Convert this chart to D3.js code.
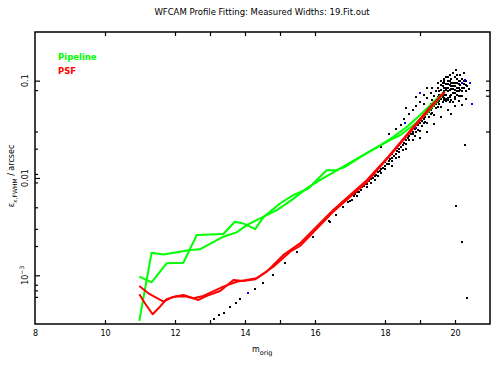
<!DOCTYPE html>
<html><head><meta charset="utf-8">
<script src="https://cdn.jsdelivr.net/npm/d3@7"></script>
<style>
body{margin:0;background:#fff;}
svg{display:block;font-family:"DejaVu Sans",sans-serif;}
</style></head><body>
<svg id="c" width="497" height="365"></svg>
<script>
// ---- data ----
const titleText = "WFCAM Profile Fitting: Measured Widths: 19.Fit.out";
const xMajorTicks = [8, 10, 12, 14, 16, 18, 20];
const xMinorBottom = [10, 12, 13, 14, 15, 16, 18, 19, 20];
const xMinorTop = [10, 12, 13, 14, 15, 16, 19];
const yMajorTicks = [0.1, 0.01, 0.001];
const yMinorTicks = [0.08, 0.03, 0.02, 0.011, 0.009, 0.005, 0.003, 0.002, 0.0008, 0.0007, 0.0006];
const yRightTicks = [0.1, 0.08, 0.07, 0.03];

const pipeA_m = [10.98, 11.33, 11.76, 12.24, 12.62, 13.38, 13.71, 13.95, 14.29, 14.52, 15.0, 15.38, 15.81, 16.33, 16.62, 16.86, 17.38, 18.14, 18.43, 18.81, 19.19, 19.67];
const pipeA_s = [0.000968, 0.000847, 0.001327, 0.001346, 0.002588, 0.002655, 0.003548, 0.003412, 0.002985, 0.003936, 0.00547, 0.00667, 0.0078, 0.01202, 0.01202, 0.0130, 0.01714, 0.02443, 0.02748, 0.03483, 0.0459, 0.0736];
const pipeB_m = [10.98, 11.33, 11.67, 12.43, 12.71, 13.38, 13.76, 14.05, 14.52, 14.91, 15.33, 15.76, 16.14, 16.71, 17.86, 18.24, 18.62, 19.0, 19.48, 19.71];
const pipeB_s = [0.00034, 0.001706, 0.00164, 0.001816, 0.00185, 0.00249, 0.00276, 0.00328, 0.00399, 0.00468, 0.00592, 0.0078, 0.00949, 0.0125, 0.02168, 0.02642, 0.03342, 0.04406, 0.0653, 0.0764];

const psfA_m = [10.98, 11.24, 11.67, 11.91, 12.24, 12.67, 12.91, 13.29, 13.67, 13.95, 14.29, 14.62, 15.09, 15.57, 16.52, 17.48, 18.09, 18.81, 19.29, 19.71];
const psfA_s = [0.000776, 0.000653, 0.000536, 0.000594, 0.000628, 0.000558, 0.000614, 0.00069, 0.000895, 0.000875, 0.00091, 0.00109, 0.00161, 0.00213, 0.00468, 0.00949, 0.01644, 0.0334, 0.0536, 0.0764];
const psfB_m = [10.98, 11.14, 11.36, 11.57, 11.76, 12.0, 12.33, 12.52, 12.81, 13.38, 13.76, 14.33, 14.81, 15.29, 15.57, 16.51, 17.48, 18.29, 18.81, 19.29, 19.66];
const psfB_s = [0.000638, 0.000516, 0.000398, 0.000476, 0.000568, 0.000604, 0.000604, 0.000581, 0.000614, 0.000764, 0.000859, 0.000931, 0.001225, 0.001746, 0.0020, 0.00446, 0.00906, 0.0196, 0.0324, 0.052, 0.0741];

const starM = [13.11, 13.27, 13.40, 13.57, 13.74, 13.86, 14.29, 14.52, 14.81, 15.14, 15.48, 15.95, 16.43, 16.95,
 17.05, 17.1, 17.15, 17.2, 17.25, 17.3, 17.35, 17.4, 17.45, 17.5, 17.55, 17.6, 17.65, 17.7, 17.75, 17.8, 17.85, 17.9, 17.95, 18.0,
 18.05, 18.1, 18.15, 18.2, 18.25, 18.3, 18.35, 18.4, 18.45, 18.5, 18.55, 18.6, 18.65, 18.7, 18.75, 18.8, 18.85, 18.9, 18.95, 19.0,
 19.05, 19.1, 19.15, 19.2, 19.25, 19.3, 19.35, 19.4, 19.45, 19.5, 19.55, 19.6, 19.65, 19.7,
 17.5, 17.7, 17.9, 18.1, 18.3, 18.5, 18.7, 18.9, 19.1, 19.3, 19.5, 19.7,
 18.2, 18.4, 18.6, 18.8, 19.0, 19.2, 19.4, 19.6, 19.8,
 18.0, 18.2, 18.4, 18.6, 18.8, 19.0, 19.2, 19.4, 19.6,
 19.75, 19.8, 19.8, 19.85, 19.85, 19.9, 19.9, 19.95, 19.95, 20.0, 20.0, 20.0, 20.05, 20.05, 20.1, 20.1, 20.15, 20.15, 20.2, 20.25, 20.3,
 19.7, 19.65, 19.6, 19.55, 19.75, 19.8, 19.9, 19.95, 20.05, 20.1, 20.2, 19.7, 19.75, 19.6, 19.5, 19.45, 19.4, 19.35, 19.3, 19.5,
 19.85, 20.0, 20.15, 20.3, 20.35, 20.4, 19.95, 20.25,
 18.3, 18.45, 18.55, 18.7, 18.8, 18.9, 19.0, 19.1, 19.2, 19.3, 19.35, 18.6, 18.9, 19.1, 18.1, 17.9, 19.2,
 19.0, 19.2, 19.4, 19.6, 19.8, 20.0, 20.2, 19.9, 20.3,
 20.03, 20.29, 20.2, 20.34, 20.03,
 19.6, 19.65, 19.7, 19.75, 19.8, 19.85, 19.85, 19.9, 19.9, 19.95, 19.95, 20.0, 20.0, 20.05, 20.05, 20.1, 20.1, 20.15, 20.15, 20.2, 20.2, 20.25, 20.25, 20.3,
 19.7, 19.75, 19.75, 19.8, 19.65, 19.55, 19.6, 19.5, 19.55, 19.45, 19.4, 19.35, 19.65, 19.7, 19.85, 20.0, 20.1, 19.9, 20.05, 20.2, 19.8, 19.7,
 18.85, 18.95, 19.05, 19.15, 19.25, 19.35, 19.45, 19.55, 19.65, 19.75, 19.85,
 17.6, 17.8, 18.0, 18.2, 18.4, 18.6, 18.8, 17.2, 17.0, 16.8, 16.6, 16.4];
const starS = [0.000356, 0.000392, 0.000413, 0.00047, 0.000524, 0.000571, 0.000718, 0.000828, 0.001007, 0.001327, 0.001746, 0.00249, 0.00355, 0.00569,
 0.0060, 0.0066, 0.0068, 0.0071, 0.0072, 0.0076, 0.0080, 0.0082, 0.0086, 0.0087, 0.0092, 0.0097, 0.0101, 0.0104, 0.0108, 0.0114, 0.0119, 0.0124, 0.0128, 0.0134,
 0.0140, 0.0151, 0.0156, 0.0162, 0.0168, 0.0178, 0.0188, 0.0200, 0.0208, 0.0218, 0.0230, 0.0244, 0.0256, 0.0270, 0.0285, 0.0300, 0.0315, 0.0330, 0.0350, 0.0368,
 0.0385, 0.0405, 0.0425, 0.0450, 0.0475, 0.0500, 0.0520, 0.0545, 0.0570, 0.0600, 0.0625, 0.0650, 0.0680, 0.0710,
 0.0080, 0.0095, 0.0113, 0.0138, 0.0160, 0.0196, 0.0243, 0.0297, 0.0365, 0.0450, 0.0540, 0.0640,
 0.0133, 0.0164, 0.0200, 0.0246, 0.0302, 0.0369, 0.0447, 0.0533, 0.0640,
 0.0147, 0.0178, 0.0220, 0.0268, 0.0330, 0.0405, 0.0495, 0.0600, 0.0715,
 0.085, 0.078, 0.092, 0.070, 0.100, 0.082, 0.095, 0.075, 0.088, 0.080, 0.095, 0.068, 0.085, 0.105, 0.078, 0.092, 0.070, 0.100, 0.085, 0.092, 0.078,
 0.095, 0.088, 0.080, 0.072, 0.062, 0.066, 0.064, 0.060, 0.072, 0.062, 0.070, 0.105, 0.110, 0.100, 0.085, 0.078, 0.070, 0.064, 0.058, 0.094,
 0.115, 0.110, 0.115, 0.100, 0.088, 0.082, 0.120, 0.120,
 0.032, 0.035, 0.040, 0.045, 0.050, 0.055, 0.060, 0.058, 0.066, 0.075, 0.085, 0.052, 0.068, 0.072, 0.028, 0.021, 0.085,
 0.026, 0.030, 0.036, 0.042, 0.050, 0.055, 0.056, 0.045, 0.065,
 0.128, 0.0217, 0.0022, 0.000587, 0.0052,
 0.070, 0.075, 0.078, 0.072, 0.085, 0.080, 0.090, 0.072, 0.088, 0.082, 0.095, 0.088, 0.075, 0.078, 0.095, 0.085, 0.100, 0.080, 0.090, 0.078, 0.095, 0.085, 0.100, 0.090,
 0.085, 0.092, 0.080, 0.100, 0.095, 0.078, 0.090, 0.068, 0.064, 0.062, 0.058, 0.055, 0.070, 0.066, 0.060, 0.065, 0.070, 0.105, 0.115, 0.105, 0.108, 0.100,
 0.027, 0.031, 0.034, 0.038, 0.042, 0.047, 0.052, 0.057, 0.061, 0.065, 0.068,
 0.0088, 0.0105, 0.0125, 0.0150, 0.0185, 0.0226, 0.028, 0.0066, 0.0058, 0.0050, 0.0042, 0.0036];
const blueM = [19.0, 20.29, 20.43, 20.48, 18.57, 18.9, 18.33, 14.08, 20.19];
const blueS = [0.074, 0.1007, 0.094, 0.058, 0.0365, 0.0324, 0.0202, 0.000653, 0.0945];

// ---- chart ----
const svg = d3.select("#c");
const L = 35, R = 490, T = 32, B = 324;
const x = d3.scaleLinear().domain([8, 21]).range([L, R]);
const y = d3.scaleLog().domain([0.000316, 0.316]).range([B, T]);

svg.append("text").attr("x", 262).attr("y", 15).attr("text-anchor", "middle")
  .attr("font-size", 8.5).text(titleText);

const gPlot = svg.append("g");
gPlot.append("clipPath").attr("id", "clip").append("rect")
  .attr("x", L).attr("y", T).attr("width", R - L).attr("height", B - T);
const plot = gPlot.append("g").attr("clip-path", "url(#clip)");

// stars
plot.selectAll("rect.star").data(starM.map((m, i) => [m, starS[i]])).join("rect")
  .attr("class", "star").attr("x", d => Math.round(x(d[0])) - 1).attr("y", d => Math.round(y(d[1])) - 1)
  .attr("width", 2).attr("height", 2).attr("fill", "#000");
plot.selectAll("rect.blue").data(blueM.map((m, i) => [m, blueS[i]])).join("rect")
  .attr("class", "blue").attr("x", d => Math.round(x(d[0])) - 1).attr("y", d => Math.round(y(d[1])) - 1)
  .attr("width", 2).attr("height", 2).attr("fill", "#0000ff");

const line = d3.line().x(d => x(d[0])).y(d => y(d[1]));
function drawLine(ms, ss, color) {
  plot.append("path").datum(ms.map((m, i) => [m, ss[i]])).attr("d", line)
    .attr("fill", "none").attr("stroke", color).attr("stroke-width", 2).attr("stroke-linejoin", "round");
}
drawLine(pipeA_m, pipeA_s, "#00ff00");
drawLine(pipeB_m, pipeB_s, "#00ff00");
drawLine(psfA_m, psfA_s, "#ff0000");
drawLine(psfB_m, psfB_s, "#ff0000");

// axes
const xb = svg.append("g").attr("transform", `translate(0,${B})`)
  .call(d3.axisBottom(x).tickValues(xMajorTicks).tickSize(0).tickPadding(6).tickFormat(d3.format("d")));
xb.select(".domain").remove();
xb.selectAll("text").attr("font-size", 8).attr("font-family", "DejaVu Sans");
svg.append("g").attr("transform", `translate(0,${B})`)
  .call(d3.axisBottom(x).tickValues(xMinorBottom).tickSize(-4).tickFormat(""))
  .call(g => g.select(".domain").remove()).selectAll("line").attr("stroke-width", 1.2);
svg.append("g").attr("transform", `translate(0,${T})`)
  .call(d3.axisTop(x).tickValues(xMinorTop).tickSize(-4).tickFormat(""))
  .call(g => g.select(".domain").remove()).selectAll("line").attr("stroke-width", 1.2);

svg.append("g").attr("transform", `translate(${L},0)`)
  .call(d3.axisLeft(y).tickValues(yMajorTicks).tickSize(-5).tickFormat(""))
  .call(g => g.select(".domain").remove()).selectAll("line").attr("stroke-width", 1.2);
svg.append("g").attr("transform", `translate(${L},0)`)
  .call(d3.axisLeft(y).tickValues(yMinorTicks).tickSize(-3).tickFormat(""))
  .call(g => g.select(".domain").remove()).selectAll("line").attr("stroke-width", 1.2);
svg.append("g").attr("transform", `translate(${R},0)`)
  .call(d3.axisRight(y).tickValues(yRightTicks).tickSize(-4).tickFormat(""))
  .call(g => g.select(".domain").remove()).selectAll("line").attr("stroke-width", 1.2);

// y labels (rotated)
const yl = svg.append("g");
[[0.1, "0.1"], [0.01, "0.01"]].forEach(([v, t]) => {
  yl.append("text").attr("transform", `translate(28,${y(v)}) rotate(-90)`)
    .attr("text-anchor", "middle").attr("font-size", 8).text(t);
});
const t3 = yl.append("text").attr("transform", `translate(28,${y(0.001)}) rotate(-90)`)
  .attr("text-anchor", "middle").attr("font-size", 8);
t3.append("tspan").text("10");
t3.append("tspan").attr("dy", -4).attr("font-size", 6).text("−3");

// frame
svg.append("rect").attr("x", L).attr("y", T).attr("width", R - L).attr("height", B - T)
  .attr("fill", "none").attr("stroke", "#000").attr("stroke-width", 1.5);

// axis titles
const xt = svg.append("text").attr("x", 252).attr("y", 352).attr("font-size", 8);
xt.append("tspan").text("m");
xt.append("tspan").attr("dy", 3).attr("font-size", 6.5).text("orig");

const yt = svg.append("text").attr("transform", "translate(14,176) rotate(-90)")
  .attr("text-anchor", "middle").attr("font-size", 8);
yt.append("tspan").text("ε");
yt.append("tspan").attr("dy", 3).attr("font-size", 6).text("x,FWHM");
yt.append("tspan").attr("dy", -3).text(" / arcsec");

// legend
svg.append("text").attr("x", 58).attr("y", 60).attr("font-size", 8.5).attr("font-weight", "bold")
  .attr("fill", "#00ff00").text("Pipeline");
svg.append("text").attr("x", 58).attr("y", 74).attr("font-size", 8.5).attr("font-weight", "bold")
  .attr("fill", "#ff0000").text("PSF");
</script></body></html>
